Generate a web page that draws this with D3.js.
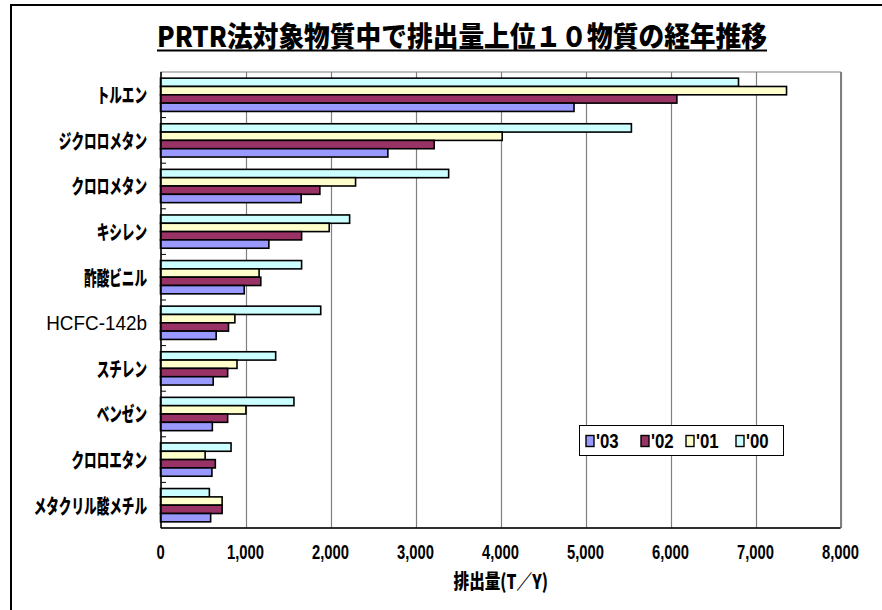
<!DOCTYPE html>
<html lang="ja">
<head>
<meta charset="utf-8">
<script src="https://cdn.jsdelivr.net/npm/d3@7/dist/d3.min.js"></script>
<style>
  html, body { margin: 0; padding: 0; background: #fff; }
  svg { display: block; }
  text { fill: #000; }
</style>
</head>
<body>
<svg id="chart" width="882" height="610"></svg>
<script>
// Top 10 PRTR substances by release amount (t/year), 2000–2003
const substances = ["トルエン", "ジクロロメタン", "クロロメタン", "キシレン", "酢酸ビニル",
                    "HCFC-142b", "スチレン", "ベンゼン", "クロロエタン", "メタクリル酸メチル"];
const years = ["'03", "'02", "'01", "'00"];
const values00 = [6800, 5540, 3390, 2225, 1660, 1885, 1355, 1570, 830, 575];
const values01 = [7365, 4020, 2295, 1985, 1160, 875, 900, 1005, 525, 725];
const values02 = [6075, 3220, 1875, 1660, 1180, 800, 790, 790, 645, 725];
const values03 = [4865, 2675, 1655, 1275, 985, 655, 620, 610, 605, 590];
const xTicks = [0, 1000, 2000, 3000, 4000, 5000, 6000, 7000, 8000];
const titleText = "PRTR法対象物質中で排出量上位１０物質の経年推移";
const xTitle = "排出量(T／Y)";

const seriesByYear = { "'03": values03, "'02": values02, "'01": values01, "'00": values00 };
const colors = { "'03": "#9999FF", "'02": "#993366", "'01": "#FFFFCC", "'00": "#CCFFFF" };
// bars within a category are stacked top-to-bottom from oldest to newest
const barOrder = ["'00", "'01", "'02", "'03"];

const svg = d3.select("#chart");
const plot = { left: 161, right: 840.5, top: 72, bottom: 528 };

// outer chart frame
svg.append("rect")
  .attr("x", 11).attr("y", 5).attr("width", 900).attr("height", 640)
  .attr("fill", "#fff").attr("stroke", "#000").attr("stroke-width", 2);

// title
svg.append("text")
  .attr("x", 157).attr("y", 47)
  .attr("font-family", "'Noto Sans CJK JP', sans-serif")
  .attr("font-weight", 900).attr("font-size", 28)
  .attr("textLength", 610).attr("lengthAdjust", "spacingAndGlyphs")
  .text(titleText);
svg.append("line")
  .attr("x1", 157).attr("x2", 767).attr("y1", 50.5).attr("y2", 50.5)
  .attr("stroke", "#000").attr("stroke-width", 2);

const x = d3.scaleLinear().domain([0, 8000]).range([plot.left - 0.5, plot.right]);
const y = d3.scaleBand().domain(substances).range([plot.top, plot.bottom]).padding(0);
const ySub = d3.scaleBand().domain(barOrder).range([0, y.bandwidth()])
  .paddingInner(0).paddingOuter(0.74);

// plot area
svg.append("rect")
  .attr("x", plot.left).attr("y", plot.top)
  .attr("width", plot.right - plot.left).attr("height", plot.bottom - plot.top)
  .attr("fill", "#fff").attr("stroke", "#808080").attr("stroke-width", 1);

// vertical gridlines
svg.append("g").selectAll("line")
  .data(xTicks.slice(1))
  .join("line")
  .attr("x1", d => Math.round(x(d)) + 0.5).attr("x2", d => Math.round(x(d)) + 0.5)
  .attr("y1", plot.top).attr("y2", plot.bottom)
  .attr("stroke", "#808080").attr("stroke-width", 1.2);

// bars
const groups = svg.append("g").selectAll("g")
  .data(substances)
  .join("g")
  .attr("transform", d => `translate(0,${y(d)})`);

groups.selectAll("rect")
  .data((d, i) => barOrder.map(yr => ({ yr, v: seriesByYear[yr][i] })))
  .join("rect")
  .attr("x", x(0))
  .attr("y", d => ySub(d.yr))
  .attr("width", d => x(d.v) - x(0))
  .attr("height", ySub.bandwidth())
  .attr("fill", d => colors[d.yr])
  .attr("stroke", "#000").attr("stroke-width", 1.6);

// category axis (left) with inward ticks at category boundaries
svg.append("line")
  .attr("x1", plot.left).attr("x2", plot.left)
  .attr("y1", plot.top).attr("y2", plot.bottom)
  .attr("stroke", "#000").attr("stroke-width", 1.5);
svg.append("g").selectAll("line")
  .data(substances.slice(1))
  .join("line")
  .attr("x1", plot.left).attr("x2", plot.left + 5)
  .attr("y1", d => y(d)).attr("y2", d => y(d))
  .attr("stroke", "#000").attr("stroke-width", 1);

// value axis line at bottom
svg.append("line")
  .attr("x1", plot.left).attr("x2", plot.right)
  .attr("y1", plot.bottom).attr("y2", plot.bottom)
  .attr("stroke", "#000").attr("stroke-width", 1.5);

// category labels
const isAscii = s => /^[\x00-\x7F]+$/.test(s);
svg.append("g").selectAll("g")
  .data(substances)
  .join("g")
  .attr("transform", d => `translate(147,${y(d) + y.bandwidth() / 2})`)
  .append("text")
  .attr("text-anchor", "end")
  .attr("dominant-baseline", "central")
  .attr("font-family", d => isAscii(d) ? "'Liberation Sans', Arial, sans-serif" : "'Noto Sans CJK JP', sans-serif")
  .attr("font-weight", d => isAscii(d) ? 400 : 900)
  .attr("font-size", d => isAscii(d) ? 21 : 20)
  .attr("transform", d => isAscii(d) ? "scale(0.9,1)" : "scale(0.63,1)")
  .text(d => d);

// value axis labels
const fmt = d3.format(",");
svg.append("g").selectAll("g")
  .data(xTicks)
  .join("g")
  .attr("transform", d => `translate(${x(d)},559)`)
  .append("text")
  .attr("text-anchor", "middle")
  .attr("font-family", "'Liberation Sans', Arial, sans-serif")
  .attr("font-weight", 700).attr("font-size", 20)
  .attr("transform", "scale(0.74,1)")
  .text(d => fmt(d));

// value axis title
svg.append("g")
  .attr("transform", `translate(${(plot.left + plot.right) / 2},589)`)
  .append("text")
  .attr("text-anchor", "middle")
  .attr("font-family", "'Noto Sans CJK JP', sans-serif")
  .attr("font-weight", 900).attr("font-size", 20)
  .attr("transform", "scale(0.78,1)")
  .text(xTitle);

// legend
const legend = svg.append("g");
legend.append("rect")
  .attr("x", 579.5).attr("y", 425.5).attr("width", 204).attr("height", 30)
  .attr("fill", "#fff").attr("stroke", "#000").attr("stroke-width", 1);
const legendX = [586, 641, 686, 736];
const item = legend.selectAll("g.item")
  .data(years)
  .join("g")
  .attr("class", "item")
  .attr("transform", (d, i) => `translate(${legendX[i]},0)`);
item.append("rect")
  .attr("x", 0).attr("y", 435.5).attr("width", 8).attr("height", 11)
  .attr("fill", d => colors[d]).attr("stroke", "#000").attr("stroke-width", 1.4);
item.append("g")
  .attr("transform", "translate(10,448)")
  .append("text")
  .attr("font-family", "'Liberation Sans', Arial, sans-serif")
  .attr("font-weight", 700).attr("font-size", 21)
  .attr("transform", "scale(0.8,1)")
  .text(d => d);
</script>
</body>
</html>
